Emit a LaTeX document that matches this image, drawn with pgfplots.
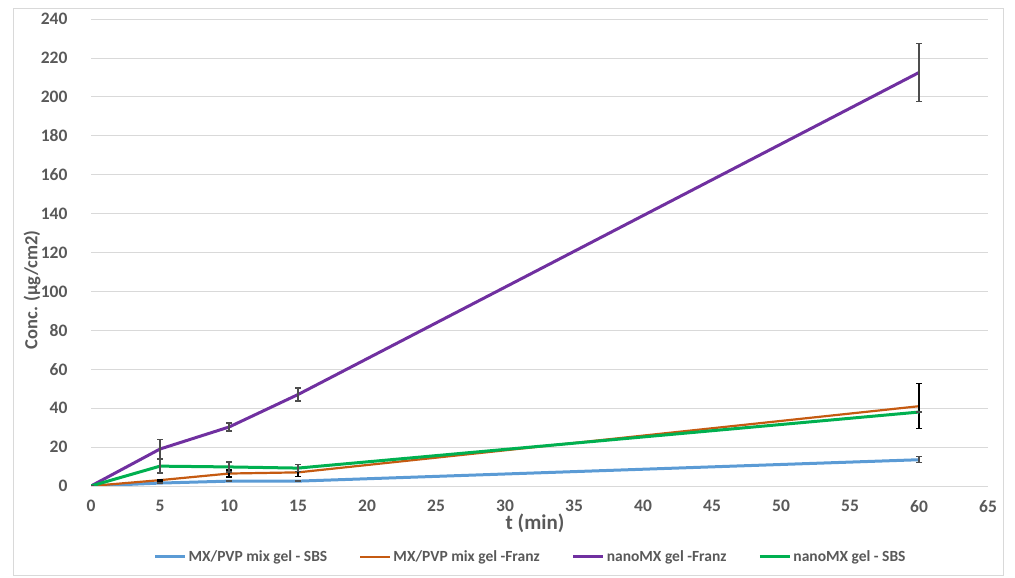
\documentclass[border=0pt]{standalone}
\usepackage{pgfplots}
\pgfplotsset{compat=1.18}
\usepackage{fontspec}
\setmainfont{Carlito}
\definecolor{cblue}{HTML}{5B9BD5}
\definecolor{corange}{HTML}{C55A11}
\definecolor{cpurple}{HTML}{7030A0}
\definecolor{cgreen}{HTML}{00B050}
\definecolor{lgray}{HTML}{595959}
\definecolor{ggray}{HTML}{D9D9D9}
\definecolor{egray}{HTML}{4D4D4D}
\begin{document}
\begin{tikzpicture}[x=1bp,y=1bp]
\useasboundingbox (0,0) rectangle (1015,578);
\draw[color=ggray, line width=0.8bp] (13,3) rectangle (1003,570);
\begin{axis}[
  at={(91bp,92bp)}, anchor=south west,
  scale only axis, width=897bp, height=467bp,
  xmin=0, xmax=65, ymin=0, ymax=240,
  xtick={0,5,...,65}, ytick={0,20,...,240},
  ymajorgrids, grid style={color=ggray, line width=0.8bp},
  axis line style={draw=none},
  major tick length=0pt,
  /pgf/number format/assume math mode=true,
  tick label style={font=\fontsize{17.5bp}{19bp}\selectfont\bfseries, color=lgray},
  xticklabel style={yshift=-11bp},
  yticklabel style={xshift=-20bp},
  xlabel={t (min)}, ylabel={Conc. (µg/cm2)},
  label style={color=lgray},
  xlabel style={font=\fontsize{21bp}{23bp}\selectfont\bfseries, at={(0.495,0)}, anchor=center, yshift=-37bp},
  ylabel style={font=\fontsize{18.5bp}{20bp}\selectfont\bfseries, at={(-0.0658,0.42)}, anchor=center},
  legend columns=4,
  legend style={at={(0.49,-0.152)}, anchor=center, draw=none, fill=none,
    font=\fontsize{15.5bp}{17bp}\selectfont\bfseries, text=lgray,
    /tikz/every even column/.append style={column sep=30bp}},
  legend image code/.code={\draw[#1] (0bp,0bp) -- (30bp,0bp);},
  every axis plot/.append style={no markers, line join=round},
]
\addplot[color=cblue, line width=3bp,
  error bars/.cd, y dir=both, y explicit,
  error bar style={color=egray, line width=1.3bp},
  error mark options={rotate=90, mark size=3bp, line width=1.3bp, color=egray}]
  table[x=t, y=c, y error=e] {
t c e
0 0 0
5 1.5 0.3
10 2.5 0
15 2.5 0
60 13.5 1.5
};
\addlegendentry{MX/PVP mix gel - SBS}
\addplot[color=corange, line width=2.2bp,
  error bars/.cd, y dir=both, y explicit,
  error bar style={color=black, line width=1.3bp},
  error mark options={rotate=90, mark size=3bp, line width=1.3bp, color=black}]
  table[x=t, y=c, y error=e] {
t c e
0 0 0
5 3 0.5
10 6.4 1.8
15 7 2.3
60 41 11.5
};
\addlegendentry{MX/PVP mix gel -Franz}
\addplot[color=cpurple, line width=3bp,
  error bars/.cd, y dir=both, y explicit,
  error bar style={color=egray, line width=1.3bp},
  error mark options={rotate=90, mark size=3bp, line width=1.3bp, color=egray}]
  table[x=t, y=c, y error=e] {
t c e
0 0 0
5 19 4.9
10 30.3 2
15 47 3.3
60 212.5 15
};
\addlegendentry{nanoMX gel -Franz}
\addplot[color=cgreen, line width=3bp,
  error bars/.cd, y dir=both, y explicit,
  error bar style={color=egray, line width=1.3bp},
  error mark options={rotate=90, mark size=3bp, line width=1.3bp, color=egray}]
  table[x=t, y=c, y error=e] {
t c e
0 0 0
5 10.2 3.5
10 9.8 2.6
15 9.2 1.8
60 38 0
};
\addlegendentry{nanoMX gel - SBS}
\end{axis}
\end{tikzpicture}
\end{document}
